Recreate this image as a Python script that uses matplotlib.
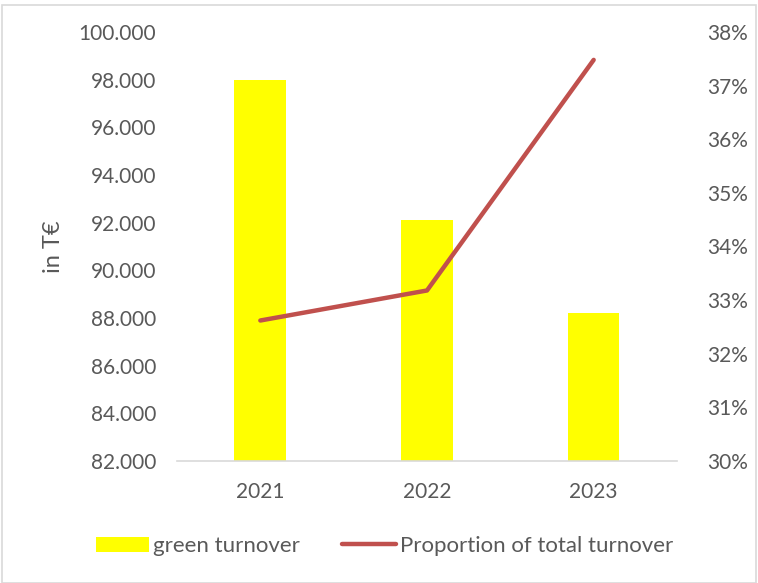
import matplotlib
matplotlib.use("Agg")
import matplotlib.pyplot as plt
from matplotlib.patches import Rectangle, Patch
from matplotlib.lines import Line2D
from matplotlib.ticker import FuncFormatter, MultipleLocator

plt.rcParams['font.family'] = ['Lato', 'DejaVu Sans']

years = ["2021", "2022", "2023"]
green_turnover = [98000, 92100, 88200]          # in T€
proportion_pct = [32.62, 33.18, 37.48]          # share of total turnover, %

TEXT = "#595959"
BAR = "#FFFF00"
LINE = "#C0504D"
FS = 15

fig = plt.figure(figsize=(7.58, 5.83), dpi=100)
ax = fig.add_axes([177/758, 1 - 461/583, 500/758, 429/583])
ax2 = ax.twinx()

x = list(range(len(years)))
ax.bar(x, green_turnover, width=0.31, color=BAR, zorder=2)
ax.set_ylim(82000, 100000)
ax.set_xlim(-0.5, len(years) - 0.5)
ax.yaxis.set_major_locator(MultipleLocator(2000))
ax.yaxis.set_major_formatter(FuncFormatter(lambda v, p: f"{v:,.0f}".replace(",", ".")))
ax.set_xticks(x)
ax.set_xticklabels(years)
ax.set_ylabel("in T€", fontsize=17, color=TEXT)
ax.yaxis.set_label_coords(-0.225, 0.5)

ax2.plot(x, proportion_pct, color=LINE, linewidth=3.2, solid_capstyle="round",
         solid_joinstyle="round", zorder=3)
ax2.set_ylim(30, 38)
ax2.yaxis.set_major_locator(MultipleLocator(1))
ax2.yaxis.set_major_formatter(FuncFormatter(lambda v, p: f"{v:.0f}%"))

for a in (ax, ax2):
    for s in a.spines.values():
        s.set_visible(False)
    a.tick_params(length=0, labelsize=FS, colors=TEXT)
ax.tick_params(axis="y", pad=15)
ax.tick_params(axis="x", pad=15)
ax2.tick_params(axis="y", pad=22)
ax.spines["bottom"].set_visible(True)
ax.spines["bottom"].set_color("#D9D9D9")
ax.spines["bottom"].set_linewidth(1.2)

handles = [Patch(facecolor=BAR, edgecolor="none"),
           Line2D([0], [0], color=LINE, linewidth=3.2, solid_capstyle="round")]
leg = fig.legend(handles, ["green turnover", "Proportion of total turnover"],
                 loc="center", bbox_to_anchor=(384.5/758, 1 - 546/583), ncol=2,
                 frameon=False, fontsize=16, handlelength=2.4, handleheight=0.65,
                 handletextpad=0.2, columnspacing=1.9)
for t in leg.get_texts():
    t.set_color(TEXT)

fig.patches.append(Rectangle((2/758, 0.5/583), 754/758, 578/583, transform=fig.transFigure,
                             fill=False, edgecolor="#D9D9D9", linewidth=1.2))

fig.savefig("out.png", dpi=100, facecolor="white")
